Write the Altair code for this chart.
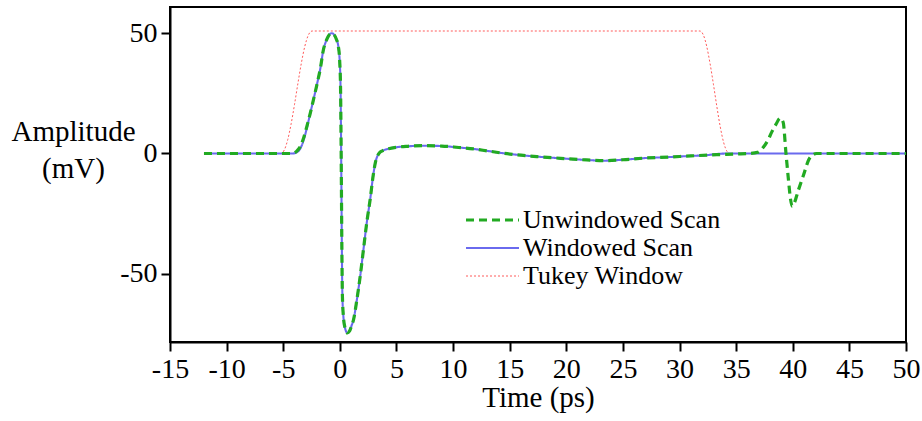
import altair as alt
import pandas as pd

# ---- data ----
unw_x = [-12, -4.2, -4.0, -3.8, -3.5, -3.2, -2.9, -2.6, -2.3, -2.0, -1.7, -1.46, -1.2, -1.0,
         -0.72, -0.5, -0.3, -0.13, -0.02, 0.06, 0.1, 0.14, 0.18, 0.22, 0.3, 0.45, 0.66, 0.85,
         1.05, 1.2, 1.5, 1.8, 2.08, 2.4, 2.67, 2.95, 3.15, 3.3, 3.5, 3.8, 4.3, 5.0, 6.0, 7.4,
         9.0, 10.5, 11.8, 13.0, 14.45, 16.0, 17.4, 19.5, 21.8, 23.3, 25.0, 27.0, 29.0, 31.0,
         33.3, 35.0, 36.2, 36.9, 37.4, 37.8, 38.15, 38.5, 38.9, 39.15, 39.4, 39.6, 39.8, 39.95,
         40.1, 40.5, 40.95, 41.4, 41.8, 42.1, 50]
unw_y = [0, 0, 0.3, 1.0, 2.8, 6.5, 11.5, 17, 23, 29.2, 36, 43, 47, 49,
         50.1, 49.4, 47.5, 44.5, 39, 28, 10, -15, -40, -58, -67, -72.5, -74.7, -74,
         -71.5, -69.4, -61, -51, -40.2, -28, -19.4, -9, -3.5, -1.3, 0.3, 1.2, 2.0, 2.6, 3.0, 3.25,
         3.1, 2.5, 1.9, 1.1, 0.1, -0.7, -1.3, -2.0, -2.7, -3.0, -2.6, -1.9, -1.5, -1.0,
         -0.5, -0.2, 0, 0.5, 2.6, 5.5, 9, 12, 14.7, 13, 0, -10, -19, -22,
         -21, -15.2, -9, -2.7, -0.5, 0, 0]

win_x = [-12, -4.2, -4.0, -3.8, -3.5, -3.2, -2.9, -2.6, -2.3, -2.0, -1.7, -1.46, -1.2, -1.0,
         -0.72, -0.5, -0.3, -0.13, -0.02, 0.06, 0.1, 0.14, 0.18, 0.22, 0.3, 0.45, 0.66, 0.85,
         1.05, 1.2, 1.5, 1.8, 2.08, 2.4, 2.67, 2.95, 3.15, 3.3, 3.5, 3.8, 4.3, 5.0, 6.0, 7.4,
         9.0, 10.5, 11.8, 13.0, 14.45, 16.0, 17.4, 19.5, 21.8, 23.3, 25.0, 27.0, 29.0, 31.0,
         32.4, 33.3, 34.4, 50]
win_y = [0, 0, 0.1, 0.5, 2.0, 5.5, 10.9, 17, 23, 29.2, 36, 43, 47, 49,
         50.1, 49.4, 47.5, 44.5, 39, 28, 10, -15, -40, -58, -67, -72.5, -74.7, -74,
         -71.5, -69.4, -61, -51, -40.2, -28, -19.4, -9, -3.5, -1.3, 0.3, 1.2, 2.0, 2.6, 3.0, 3.25,
         3.1, 2.5, 1.9, 1.1, 0.1, -0.7, -1.3, -2.0, -2.7, -3.0, -2.6, -1.9, -1.5, -1.0,
         -0.7, -0.2, 0, 0]

tuk_x = [-12, -5.2, -4.9, -4.6, -4.3, -4.0, -3.7, -3.4, -3.1, -2.8, -2.46,
         31.8, 32.1, 32.4, 32.7, 33.0, 33.3, 33.6, 33.9, 34.2, 34.4, 50]
tuk_y = [0, 0, 1.5, 5.8, 12.4, 20.5, 29.3, 37.6, 44.5, 49.1, 51,
         51, 49.4, 44.6, 37.3, 28.6, 19.4, 11.0, 4.5, 0.8, 0, 0]

series_names = ["Unwindowed Scan", "Windowed Scan", "Tukey Window"]
series_colors = ["#22aa22", "#6a6aee", "#ff5a5a"]
series_dash = [[8, 5], [1, 0], [2, 2]]
series_width = [3.2, 1.0, 1.3]

x_ticks = list(range(-15, 51, 5))
y_ticks = [-50, 0, 50]

df_unw = pd.DataFrame({"t": unw_x, "a": unw_y, "series": series_names[0]})
df_win = pd.DataFrame({"t": win_x, "a": win_y, "series": series_names[1]})
df_tuk = pd.DataFrame({"t": tuk_x, "a": tuk_y, "series": series_names[2]})

FONT = "Liberation Serif"

x_enc = alt.X("t:Q", scale=alt.Scale(domain=[-15, 50], nice=False, zero=False),
              axis=alt.Axis(values=x_ticks, title="Time (ps)", titleY=64,
                            titleBaseline="alphabetic", labelOverlap=False,
                            labelFlush=False, labelExpr="toString(datum.value)"))
y_enc = alt.Y("a:Q", scale=alt.Scale(domain=[-78.5, 61], nice=False, zero=False),
              axis=alt.Axis(values=y_ticks, title=["Amplitude", "(mV)"], titleAngle=0,
                            titleAlign="center", titleBaseline="alphabetic",
                            titleX=-97, titleY=133, titleLineHeight=37,
                            labelOverlap=False, labelFlush=False,
                            labelExpr="toString(datum.value)"))

color_enc = alt.Color("series:N", title=None,
                      scale=alt.Scale(domain=series_names, range=series_colors))
dash_enc = alt.StrokeDash("series:N", title=None,
                          scale=alt.Scale(domain=series_names, range=series_dash))
width_enc = alt.StrokeWidth("series:N", title=None,
                            scale=alt.Scale(domain=series_names, range=series_width))


def layer(df):
    return alt.Chart(df).mark_line(interpolate="monotone").encode(
        x=x_enc, y=y_enc, color=color_enc, strokeDash=dash_enc, strokeWidth=width_enc,
        order=alt.Order("t:Q")
    )


chart = alt.layer(layer(df_tuk), layer(df_win), layer(df_unw)).properties(
    width=736, height=335,
    padding={"left": 170, "top": 7, "right": 16, "bottom": 79},
    autosize="none",
).configure_view(
    stroke="black", strokeWidth=2
).configure_axis(
    labelFont=FONT, titleFont=FONT, labelFontSize=28, titleFontSize=29,
    labelColor="black", titleColor="black", titleFontWeight="normal",
    domainColor="black", domainWidth=2, tickColor="black", tickWidth=2, tickSize=9,
    labelPadding=4, grid=False,
).configure_legend(
    orient="none", legendX=290, legendY=200, padding=0,
    labelFont=FONT, labelFontSize=26, labelColor="black", labelLimit=0,
    symbolType="M0,0H10.6", symbolSize=100, symbolOffset=-7, labelOffset=44,
    rowPadding=2,
)

chart.save("out.html", embed_options={"renderer": "svg", "actions": False})
